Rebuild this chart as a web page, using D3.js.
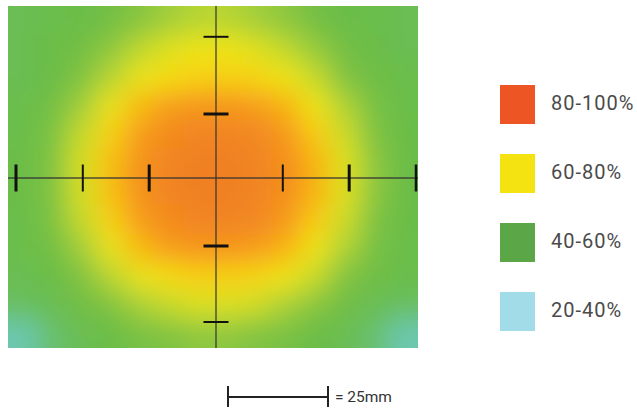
<!DOCTYPE html>
<html>
<head>
<meta charset="utf-8">
<script src="https://cdn.jsdelivr.net/npm/d3@7"></script>
<style>
  html, body { margin: 0; padding: 0; background: #fff; }
  svg { display: block; }
</style>
</head>
<body>
<div id="chart"></div>
<script>
// beam intensity (%), rows top -> bottom, columns left -> right
const intensity = [
  [48, 49, 50, 52, 56, 60, 63, 63, 60, 57, 52, 50, 49, 48],
  [48, 50, 52, 57, 64, 69, 72, 72, 69, 64, 58, 52, 50, 48],
  [48, 50, 55, 63, 71, 75, 77, 77, 76, 72, 65, 55, 51, 49],
  [49, 52, 60, 71, 81, 87, 89, 89, 87, 82, 72, 62, 53, 49],
  [49, 54, 65, 77, 87, 93, 96, 96, 94, 88, 78, 66, 55, 50],
  [50, 55, 67, 80, 90, 96, 99, 99, 96, 91, 82, 69, 57, 50],
  [50, 55, 67, 80, 90, 96, 99, 99, 96, 91, 82, 69, 57, 50],
  [49, 54, 65, 77, 87, 93, 96, 96, 94, 88, 78, 66, 55, 50],
  [49, 52, 60, 71, 81, 87, 89, 89, 87, 82, 72, 62, 53, 49],
  [48, 50, 55, 63, 71, 75, 77, 77, 76, 72, 65, 55, 51, 49],
  [46, 48, 51, 55, 61, 65, 68, 68, 66, 61, 56, 51, 48, 46],
  [40, 45, 48, 50, 53, 55, 57, 57, 55, 53, 50, 48, 45, 40]
];

// colour ramp of the map
const rampValues = [38, 42, 46, 50, 55, 61, 67, 73, 78, 84, 92, 100];
const rampColors = ["#72cac4", "#66c39a", "#68bf5e", "#6bbd46", "#80c342", "#a8d038",
                    "#d4df22", "#f3e516", "#f8cb12", "#f8a81a", "#f38a1f", "#f07f22"];

// crosshair ticks (mm from centre) and scale bar
const xTicksMm = [-50, -33.3, -16.7, 16.7, 33.3, 50];
const xTickWidths = [3, 2, 3, 2, 3, 2.5];
const yTicksMm = [-35.3, -16, 17, 36];
const yTickWidths = [2, 3, 3, 2];
const scaleBarMm = 25;
const scaleBarLabel = "= 25mm";

// legend
const legendLabels = ["80-100%", "60-80%", "40-60%", "20-40%"];
const legendColors = ["#ee5524", "#f4e311", "#5ba646", "#a3dce9"];

const width = 637, height = 411;
const img = { x0: 8, y0: 6, x1: 418, y1: 348 };

const svg = d3.select("#chart").append("svg")
  .attr("width", width)
  .attr("height", height);

const defs = svg.append("defs");
defs.append("clipPath").attr("id", "imgClip")
  .append("rect")
  .attr("x", img.x0).attr("y", img.y0)
  .attr("width", img.x1 - img.x0).attr("height", img.y1 - img.y0);

defs.append("filter").attr("id", "soft")
  .attr("filterUnits", "userSpaceOnUse")
  .attr("x", -60).attr("y", -60).attr("width", 560).attr("height", 480)
  .append("feGaussianBlur").attr("stdDeviation", 13);

// heat map cells
const nRows = intensity.length, nCols = intensity[0].length;
const x = d3.scaleBand().domain(d3.range(nCols)).range([img.x0, img.x1]);
const y = d3.scaleBand().domain(d3.range(nRows)).range([img.y0, img.y1]);
const color = d3.scaleLinear().domain(rampValues).range(rampColors).clamp(true);

const pad = 45; // outer cells run past the frame so the blur keeps the edges solid
const cells = [];
intensity.forEach((row, r) => row.forEach((v, c) => cells.push({ r, c, v })));

svg.append("g").attr("clip-path", "url(#imgClip)")
  .append("g").attr("filter", "url(#soft)")
  .selectAll("rect")
  .data(cells)
  .join("rect")
  .attr("x", d => x(d.c) - (d.c === 0 ? pad : 0))
  .attr("y", d => y(d.r) - (d.r === 0 ? pad : 0))
  .attr("width", d => x.bandwidth() + 0.6 + (d.c === 0 || d.c === nCols - 1 ? pad : 0))
  .attr("height", d => y.bandwidth() + 0.6 + (d.r === 0 || d.r === nRows - 1 ? pad : 0))
  .attr("fill", d => color(d.v));

// crosshair in mm
const xMm = d3.scaleLinear().domain([-50, 50]).range([16, 416]);
const yMm = d3.scaleLinear().domain([-50, 50]).range([-22, 378]);

const cross = svg.append("g");
cross.append("line")
  .attr("x1", img.x0).attr("x2", img.x1)
  .attr("y1", yMm(0)).attr("y2", yMm(0))
  .attr("stroke", "#333").attr("stroke-width", 1.4).attr("opacity", 0.85);
cross.append("line")
  .attr("x1", xMm(0)).attr("x2", xMm(0))
  .attr("y1", img.y0).attr("y2", img.y1)
  .attr("stroke", "#333").attr("stroke-width", 1.4).attr("opacity", 0.85);

cross.selectAll(".xt")
  .data(xTicksMm)
  .join("line")
  .attr("class", "xt")
  .attr("x1", d => xMm(d)).attr("x2", d => xMm(d))
  .attr("y1", yMm(0) - 13.5).attr("y2", yMm(0) + 13.5)
  .attr("stroke", "#111")
  .attr("stroke-width", (d, i) => xTickWidths[i]);

cross.selectAll(".yt")
  .data(yTicksMm)
  .join("line")
  .attr("class", "yt")
  .attr("y1", d => yMm(d)).attr("y2", d => yMm(d))
  .attr("x1", xMm(0) - 12.5).attr("x2", xMm(0) + 12.5)
  .attr("stroke", "#111")
  .attr("stroke-width", (d, i) => yTickWidths[i]);

// scale bar
const barX0 = 228, barY = 397;
const barX1 = barX0 + (xMm(scaleBarMm) - xMm(0));
const bar = svg.append("g").attr("stroke", "#222").attr("stroke-width", 2);
bar.append("line").attr("x1", barX0).attr("x2", barX1).attr("y1", barY).attr("y2", barY);
bar.append("line").attr("x1", barX0).attr("x2", barX0).attr("y1", barY - 11).attr("y2", barY + 10);
bar.append("line").attr("x1", barX1).attr("x2", barX1).attr("y1", barY - 11).attr("y2", barY + 10);
svg.append("text")
  .attr("x", barX1 + 7).attr("y", 402)
  .attr("font-family", "Roboto, sans-serif")
  .attr("font-size", 15.5)
  .attr("fill", "#333")
  .text(scaleBarLabel);

// legend
const ly = d3.scalePoint().domain(legendLabels).range([85, 292]);
const legend = svg.append("g");
legend.selectAll("rect")
  .data(legendLabels)
  .join("rect")
  .attr("x", 500)
  .attr("y", d => ly(d))
  .attr("width", 35)
  .attr("height", 39)
  .attr("fill", (d, i) => legendColors[i]);
legend.selectAll("text")
  .data(legendLabels)
  .join("text")
  .attr("x", 551)
  .attr("y", d => ly(d) + 25)
  .attr("font-family", "Roboto, sans-serif")
  .attr("font-size", 20)
  .attr("letter-spacing", 1)
  .attr("fill", "#4a4a4a")
  .text(d => d);
</script>
</body>
</html>
